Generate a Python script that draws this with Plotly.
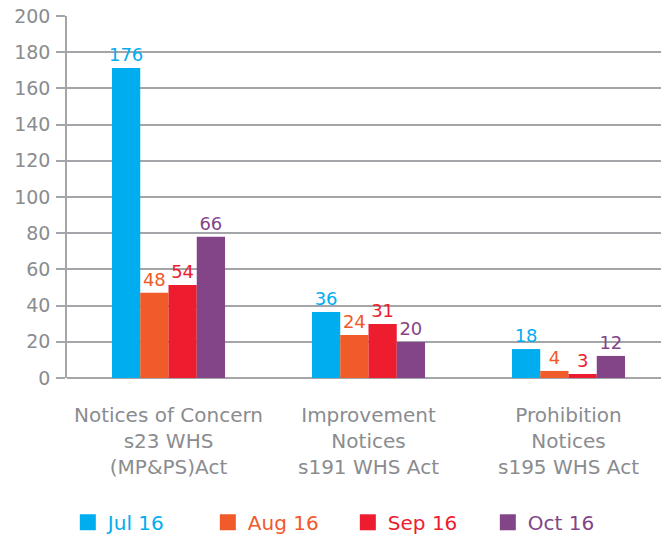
import plotly.graph_objects as go

categories = ["Notices of Concern<br>s23 WHS<br>(MP&PS)Act",
              "Improvement<br>Notices<br>s191 WHS Act",
              "Prohibition<br>Notices<br>s195 WHS Act"]
series_names = ["Jul 16", "Aug 16", "Sep 16", "Oct 16"]
# bar heights as drawn in the picture
jul = [171.3, 36.5, 16.0]
aug = [47.1, 23.8, 3.9]
sep = [51.4, 29.8, 2.2]
oct_ = [78.1, 19.9, 12.2]
# data labels as printed in the picture
jul_lbl = ["176", "36", "18"]
aug_lbl = ["48", "24", "4"]
sep_lbl = ["54", "31", "3"]
oct_lbl = ["66", "20", "12"]
y_ticks = [0, 20, 40, 60, 80, 100, 120, 140, 160, 180, 200]

colors = ["#00AEEF", "#F15A29", "#ED1C2E", "#834588"]
GRAY = "#8a8c8f"
LINE = "#a3a5a8"
FONT = "DejaVu Sans"

fig = go.Figure()
vals = [jul, aug, sep, oct_]
lbls = [jul_lbl, aug_lbl, sep_lbl, oct_lbl]
xpos = list(range(len(categories)))
for name, v, l, c in zip(series_names, vals, lbls, colors):
    fig.add_trace(go.Bar(
        x=xpos, y=v, name=name, marker=dict(color=c, line=dict(width=0)),
        text=l, textposition="outside", cliponaxis=False, constraintext="none",
        textfont=dict(color=c, size=18, family=FONT),
        showlegend=False, hoverinfo="skip",
    ))
for name, c in zip(series_names, colors):
    fig.add_trace(go.Scatter(
        x=[None], y=[None], mode="markers", name=f"<span style='color:{c}'>{name}</span>",
        marker=dict(symbol="square", size=22, color=c),
        showlegend=True,
    ))

fig.update_layout(
    width=661, height=537,
    margin=dict(l=67, r=0, t=16, b=159, autoexpand=False),
    paper_bgcolor="white", plot_bgcolor="white",
    barmode="group", bargap=0.435, bargroupgap=0,
    font=dict(family=FONT, color=GRAY, size=18),
    xaxis=dict(
        tickmode="array", tickvals=xpos, ticktext=categories,
        range=[-0.5075, 2.4625], showgrid=False, zeroline=False,
        showline=False, ticks="", tickfont=dict(size=20, color=GRAY),
        ticklabelstandoff=23, automargin=False,
    ),
    yaxis=dict(
        range=[0, 200], tickvals=y_ticks, showgrid=True,
        gridcolor=LINE, gridwidth=1.5, zeroline=True,
        zerolinecolor=LINE, zerolinewidth=1.5,
        showline=True, linecolor=LINE, linewidth=1.5,
        ticks="outside", ticklen=9, tickcolor=LINE, tickwidth=1.5,
        tickfont=dict(size=19, color=GRAY), ticklabelstandoff=2,
        automargin=False,
    ),
    legend=dict(orientation="h", x=0.0014, xanchor="left", y=-0.3986, yanchor="middle",
                font=dict(size=20), itemsizing="trace", tracegroupgap=0,
                entrywidth=95, entrywidthmode="pixels",
                bgcolor="rgba(0,0,0,0)"),
)
# remove the browser's default 8px page margin so the figure fills the window
fig.write_html("out.html", config={"displayModeBar": False},
               post_script="document.body.style.margin='0';")
